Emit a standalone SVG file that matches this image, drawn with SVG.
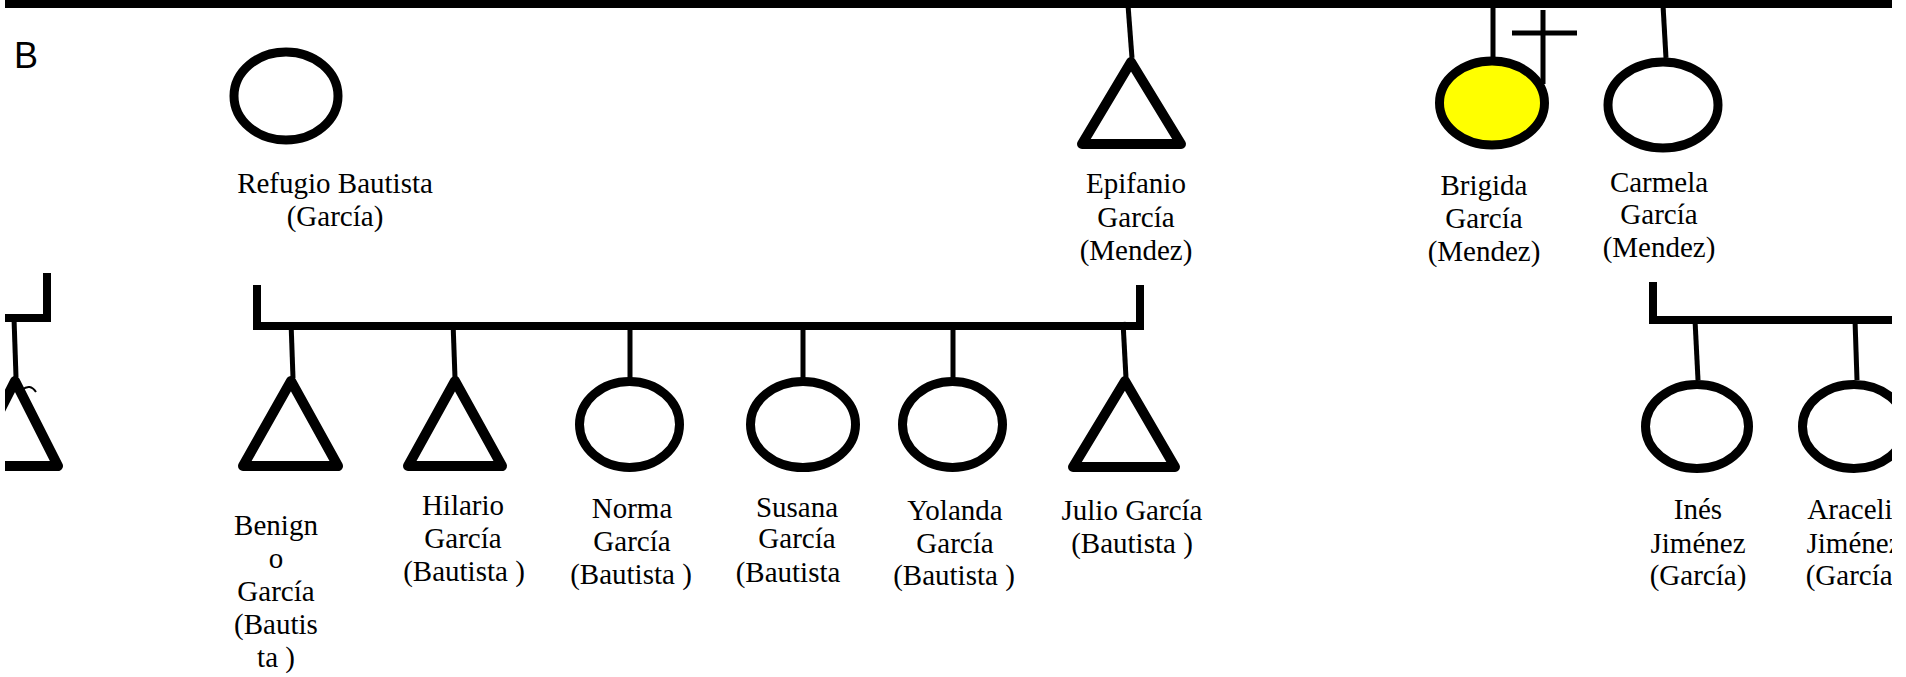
<svg xmlns="http://www.w3.org/2000/svg" width="1906" height="677" viewBox="0 0 1906 677">
<style>
.lbl{font-family:"Liberation Serif","Times New Roman",serif;font-size:29px;fill:#000;text-anchor:middle}
.b{font-family:"Liberation Sans",Arial,sans-serif;font-size:36px;fill:#000}
.shape{fill:#fff;stroke:#000;stroke-width:9}
.tri{fill:#fff;stroke:#000;stroke-width:10;stroke-linejoin:round}
.thin{fill:none;stroke:#000;stroke-width:5}
.thick{fill:none;stroke:#000;stroke-width:8}
</style>
<defs>
<clipPath id="page"><rect x="5" y="0" width="1887" height="677"/></clipPath>
</defs>
<rect width="1906" height="677" fill="#fff"/>
<g clip-path="url(#page)">
<g id="connectors">
<rect x="5" y="0" width="1887" height="8" fill="#000"/>
<path class="thin" d="M1128,5 L1132,58"/>
<path class="thin" d="M1493,5 V58"/>
<path class="thin" d="M1663,5 L1666,58"/>
<path class="thin" d="M1543,10 V84 M1512,33 H1577"/>
<path class="thick" d="M47,273 V318 H5"/>
<path class="thin" d="M14,318 L16,377"/>
<path class="thick" d="M257,285 V326 H1140 V285"/>
<path class="thin" d="M291,322 L293,378"/>
<path class="thin" d="M453,322 L455,378"/>
<path class="thin" d="M630,322 V378"/>
<path class="thin" d="M803,322 V378"/>
<path class="thin" d="M953,322 V378"/>
<path class="thin" d="M1123,322 L1126,378"/>
<path class="thick" d="M1653,282 V320 H1900"/>
<path class="thin" d="M1695,320 L1698,380"/>
<path class="thin" d="M1855,320 L1857,380"/>
</g>
<g id="label-B"><text class="b" x="14" y="68">B</text></g>
<g id="refugio">
<ellipse class="shape" cx="286" cy="96" rx="52" ry="44"/>
<text class="lbl" x="335" y="193">Refugio Bautista</text>
<text class="lbl" x="335" y="226">(García)</text>
</g>
<g id="epifanio">
<path class="tri" d="M1131,62 L1181,144 L1082,144 Z"/>
<text class="lbl" x="1136" y="193">Epifanio</text>
<text class="lbl" x="1136" y="227">García</text>
<text class="lbl" x="1136" y="260">(Mendez)</text>
</g>
<g id="brigida">
<ellipse class="shape" cx="1492" cy="103" rx="52.5" ry="42" style="fill:#ffff00"/>
<text class="lbl" x="1484" y="195">Brigida</text>
<text class="lbl" x="1484" y="228">García</text>
<text class="lbl" x="1484" y="261">(Mendez)</text>
</g>
<g id="carmela">
<ellipse class="shape" cx="1663" cy="105" rx="55" ry="43"/>
<text class="lbl" x="1659" y="192">Carmela</text>
<text class="lbl" x="1659" y="224">García</text>
<text class="lbl" x="1659" y="257">(Mendez)</text>
</g>
<g id="left-fragment">
<path class="tri" d="M15,381 L58,466 L-28,466 Z"/>
<path fill="none" stroke="#000" stroke-width="2" d="M22,390 Q30,383 36,392"/>
</g>
<g id="benigno">
<path class="tri" d="M291,381 L338,466 L243,466 Z"/>
<text class="lbl" x="276" y="535">Benign</text>
<text class="lbl" x="276" y="568">o</text>
<text class="lbl" x="276" y="601">García</text>
<text class="lbl" x="276" y="634">(Bautis</text>
<text class="lbl" x="276" y="667">ta )</text>
</g>
<g id="hilario">
<path class="tri" d="M455,381 L502,466 L408,466 Z"/>
<text class="lbl" x="463" y="515">Hilario</text>
<text class="lbl" x="463" y="548">García</text>
<text class="lbl" x="464" y="581">(Bautista )</text>
</g>
<g id="norma">
<ellipse class="shape" cx="629.5" cy="424.5" rx="50" ry="43"/>
<text class="lbl" x="632" y="518">Norma</text>
<text class="lbl" x="632" y="551">García</text>
<text class="lbl" x="631" y="584">(Bautista )</text>
</g>
<g id="susana">
<ellipse class="shape" cx="803" cy="424.5" rx="52.5" ry="43"/>
<text class="lbl" x="797" y="517">Susana</text>
<text class="lbl" x="797" y="548">García</text>
<text class="lbl" x="788" y="582">(Bautista</text>
</g>
<g id="yolanda">
<ellipse class="shape" cx="952.5" cy="424.5" rx="50" ry="43"/>
<text class="lbl" x="955" y="520">Yolanda</text>
<text class="lbl" x="955" y="553">García</text>
<text class="lbl" x="954" y="585">(Bautista )</text>
</g>
<g id="julio">
<path class="tri" d="M1125,381 L1175,467 L1073,467 Z"/>
<text class="lbl" x="1132" y="520">Julio García</text>
<text class="lbl" x="1132" y="553">(Bautista )</text>
</g>
<g id="ines">
<ellipse class="shape" cx="1697" cy="426.5" rx="51.5" ry="42"/>
<text class="lbl" x="1698" y="519">Inés</text>
<text class="lbl" x="1698" y="553">Jiménez</text>
<text class="lbl" x="1698" y="585">(García)</text>
</g>
<g id="araceli">
<ellipse class="shape" cx="1854" cy="426.5" rx="51.5" ry="42"/>
<text class="lbl" x="1850" y="519">Araceli</text>
<text class="lbl" x="1854" y="553">Jiménez</text>
<text class="lbl" x="1854" y="585">(García)</text>
</g>
</g>
</svg>
